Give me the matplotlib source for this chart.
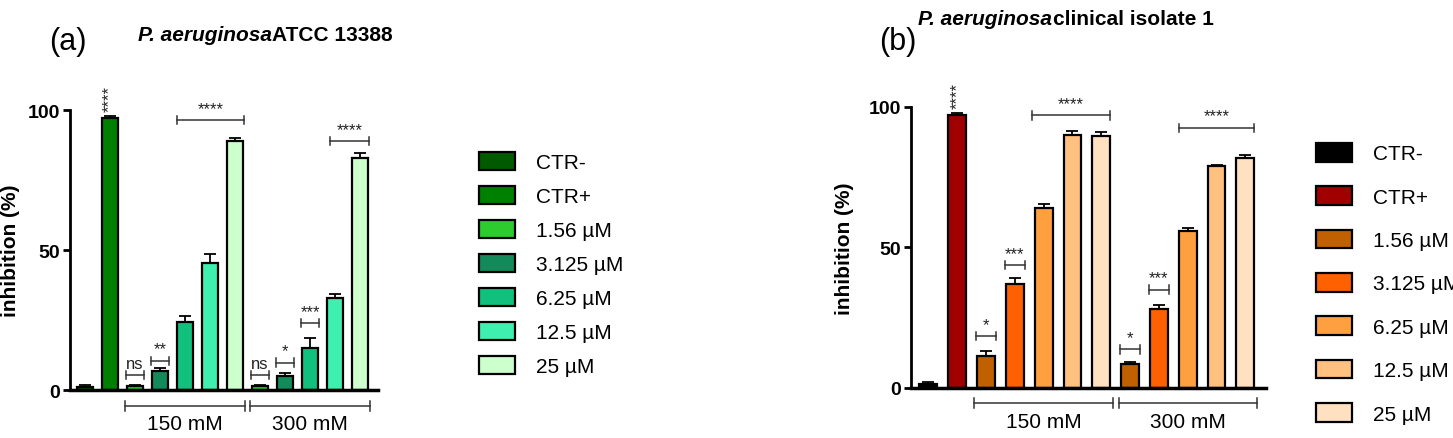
import matplotlib
matplotlib.use("Agg")
import matplotlib.pyplot as plt
from matplotlib.patches import Patch
import numpy as np

plt.rcParams['font.family'] = ['Liberation Sans', 'DejaVu Sans']

labels = ["CTR-", "CTR+", "1.56 µM", "3.125 µM", "6.25 µM", "12.5 µM", "25 µM"]
groups = ["150 mM", "300 mM"]

# panel a: CTR-, CTR+, then 150 mM (5 conc), 300 mM (5 conc)
a_vals = [1.0, 97.0, 1.5, 7.0, 24.5, 45.5, 89.0, 1.5, 5.0, 15.0, 33.0, 83.0]
a_err = [1.0, 1.0, 0.3, 1.0, 2.0, 3.0, 1.0, 0.3, 1.0, 3.5, 1.5, 1.5]
b_vals = [1.5, 97.0, 11.5, 37.0, 64.0, 90.0, 89.5, 8.5, 28.0, 56.0, 79.0, 82.0]
b_err = [0.7, 1.0, 1.5, 2.0, 1.5, 1.5, 1.5, 0.8, 1.5, 1.0, 0.5, 1.0]

a_cols = ["#005a00", "#008000", "#2ecb2e", "#138a5a", "#10c07c", "#3fefb0", "#ccffcc"]
b_cols = ["#000000", "#a00000", "#c06000", "#ff6000", "#ffa040", "#ffc080", "#ffe0c0"]

# significance: (x0, x1, y, text)
a_sig = [(1.65, 2.35, 5.5, "ns"), (2.65, 3.35, 10.5, "**"), (3.7, 6.35, 96.5, "****"),
         (6.65, 7.35, 5.5, "ns"), (7.65, 8.35, 9.8, "*"), (8.65, 9.35, 24.0, "***"),
         (9.8, 11.35, 89.0, "****")]
b_sig = [(1.65, 2.35, 18.4, "*"), (2.65, 3.35, 43.7, "***"), (3.6, 6.3, 97.0, "****"),
         (6.65, 7.35, 13.7, "*"), (7.65, 8.35, 35.0, "***"), (8.7, 11.3, 92.6, "****")]


def bracket(ax, x0, x1, y, text, cap=1.5, fs=12, dy=1.5):
    ax.plot([x0, x1], [y, y], color="#333333", lw=1.1, clip_on=False)
    for x in (x0, x1):
        ax.plot([x, x], [y - cap, y + cap], color="#333333", lw=1.1, clip_on=False)
    ax.text((x0 + x1) / 2, y + dy, text, ha="center", va="bottom", fontsize=fs, color="#222222")


def panel(ax, vals, errs, cols, sigs, legx, legy, lsp):
    x = np.arange(len(vals))
    colors = [cols[0], cols[1]] + cols[2:] * 2
    ax.bar(x, vals, width=0.62, color=colors, edgecolor="black", linewidth=1.6, zorder=2)
    ax.errorbar(x, vals, yerr=[np.zeros(len(errs)), errs], fmt="none", ecolor="black",
                elinewidth=1.3, capsize=4, capthick=1.3, zorder=3)
    ax.set_xlim(-0.6, 11.7)
    ax.set_ylim(0, 100)
    ax.set_yticks([0, 50, 100])
    ax.set_yticklabels(["0", "50", "100"], fontsize=14, fontweight="bold")
    ax.set_xticks([])
    for s in ("top", "right"):
        ax.spines[s].set_visible(False)
    ax.spines["left"].set_linewidth(2)
    ax.spines["bottom"].set_linewidth(2.5)
    ax.tick_params(axis="y", width=2, length=5, pad=2)
    ax.set_ylabel("inhibition (%)", fontsize=15, fontweight="bold")
    ax.yaxis.set_label_coords(-0.16, 0.5)
    ax.text(1, vals[1] + errs[1] + 1.5, "****", rotation=90, ha="center", va="bottom",
            fontsize=12, color="#222222")
    for s in sigs:
        bracket(ax, *s)
    for i, (x0, x1) in enumerate([(1.6, 6.4), (6.6, 11.4)]):
        bracket(ax, x0, x1, -5.5, "", cap=1.8)
        ax.text((x0 + x1) / 2, -8.5, groups[i], ha="center", va="top", fontsize=15)
    handles = [Patch(facecolor=c, edgecolor="black", linewidth=1.6) for c in cols]
    ax.figure.legend(handles, labels, loc="upper left", bbox_to_anchor=(legx, legy),
                     frameon=False, fontsize=15, labelspacing=lsp, handlelength=1.7,
                     handleheight=1.0, handletextpad=1.0)
    return ax


fig = plt.figure(figsize=(14.53, 4.39), dpi=100)
ax1 = fig.add_axes([0.048, 0.109, 0.212, 0.638])
ax2 = fig.add_axes([0.627, 0.114, 0.244, 0.640])
panel(ax1, a_vals, a_err, a_cols, a_sig, 0.317, 0.695, 0.65)
panel(ax2, b_vals, b_err, b_cols, b_sig, 0.893, 0.715, 1.1)

fig.text(0.034, 0.905, "(a)", fontsize=22, va="center")
fig.text(0.095, 0.92, "P. aeruginosa", fontsize=15, fontweight="bold", fontstyle="italic", va="center")
fig.text(0.187, 0.92, "ATCC 13388", fontsize=15, fontweight="bold", va="center")
fig.text(0.605, 0.905, "(b)", fontsize=22, va="center")
fig.text(0.632, 0.955, "P. aeruginosa", fontsize=15, fontweight="bold", fontstyle="italic", va="center")
fig.text(0.7245, 0.955, "clinical isolate 1", fontsize=15, fontweight="bold", va="center")

fig.savefig("out.png", dpi=100)
